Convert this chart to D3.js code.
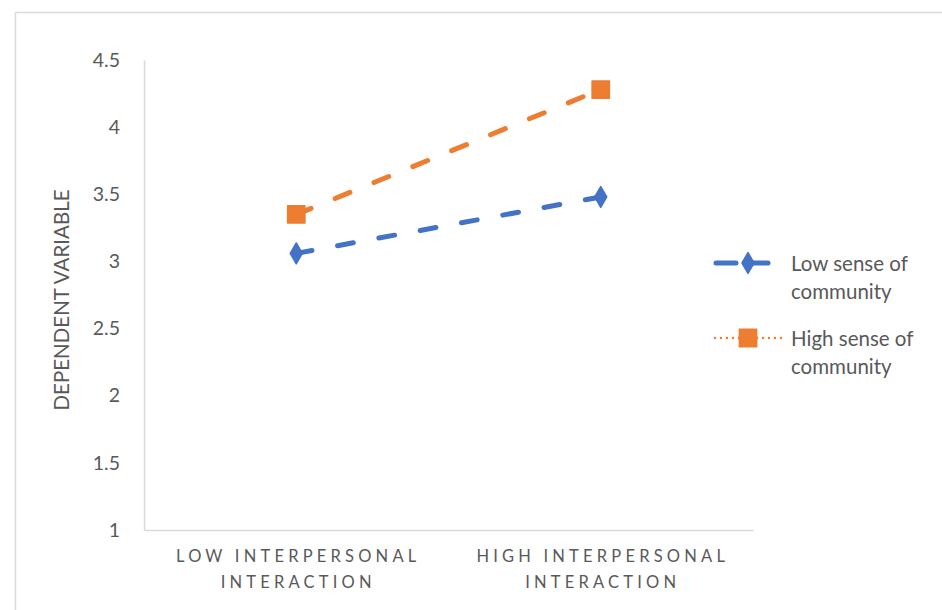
<!DOCTYPE html>
<html>
<head>
<meta charset="utf-8">
<script src="https://cdn.jsdelivr.net/npm/d3@7"></script>
<style>
  html, body { margin: 0; padding: 0; background: #fff; }
  svg { display: block; font-family: Lato, "Open Sans", sans-serif; }
</style>
</head>
<body>
<svg id="chart" width="942" height="610"></svg>
<script>
// Interaction plot: dependent variable by interpersonal interaction level
const categories = ["LOW INTERPERSONAL INTERACTION", "HIGH INTERPERSONAL INTERACTION"];
const categoryLines = [["LOW INTERPERSONAL", "INTERACTION"], ["HIGH INTERPERSONAL", "INTERACTION"]];
const lowCommunity = [3.06, 3.48];
const highCommunity = [3.35, 4.28];
const seriesNames = ["Low sense of community", "High sense of community"];
const legendLines = [["Low sense of", "community"], ["High sense of", "community"]];
const yTicks = [1, 1.5, 2, 2.5, 3, 3.5, 4, 4.5];
const yTitle = "DEPENDENT VARIABLE";

const series = [
  { name: seriesNames[0], values: lowCommunity, color: "#4472C4", symbol: "diamond" },
  { name: seriesNames[1], values: highCommunity, color: "#ED7D31", symbol: "square" }
];

const svg = d3.select("#chart");
const textColor = "#595959";
const axisColor = "#d9d9d9";

// chart frame
svg.append("rect")
  .attr("x", 15.5).attr("y", 12.5)
  .attr("width", 960).attr("height", 620)
  .attr("fill", "none").attr("stroke", axisColor).attr("stroke-width", 1.5);

const plot = { left: 144, right: 753, top: 60, bottom: 530 };

const x = d3.scaleBand().domain(categories).range([plot.left, plot.right]);
const y = d3.scaleLinear().domain([1, 4.5]).range([plot.bottom, plot.top]);

// y axis
const yAxis = d3.axisLeft(y).tickValues(yTicks).tickSize(0).tickPadding(24)
  .tickFormat(d => String(d));
const gy = svg.append("g").attr("transform", `translate(${plot.left},0)`).call(yAxis);
gy.select(".domain").attr("stroke", axisColor).attr("stroke-width", 1.5);
gy.selectAll("text").attr("fill", textColor).attr("font-size", 19.5)
  .attr("font-family", "Lato, sans-serif");

// x axis
const xAxis = d3.axisBottom(x).tickSize(0).tickFormat("");
const gx = svg.append("g").attr("transform", `translate(0,${plot.bottom})`).call(xAxis);
gx.select(".domain").attr("stroke", axisColor).attr("stroke-width", 1.5);

categories.forEach((c, i) => {
  const t = svg.append("text")
    .attr("x", x(c) + x.bandwidth() / 2)
    .attr("y", 562)
    .attr("text-anchor", "middle")
    .attr("fill", textColor)
    .attr("font-size", 16.5)
    .attr("letter-spacing", "4.2px");
  categoryLines[i].forEach((line, j) => {
    t.append("tspan")
      .attr("x", x(c) + x.bandwidth() / 2 + 2)
      .attr("dy", j === 0 ? 0 : 26)
      .text(line);
  });
});

// y axis title
svg.append("text")
  .attr("transform", `translate(69,${300}) rotate(-90)`)
  .attr("text-anchor", "middle")
  .attr("fill", textColor)
  .attr("font-size", 20.5)
  .text(yTitle);

const cx = c => x(c) + x.bandwidth() / 2;
const line = d3.line().x((d, i) => cx(categories[i])).y(d => y(d));

const symbolFor = s => s === "diamond"
  ? d3.symbol().type(d3.symbolDiamond).size(125)
  : d3.symbol().type(d3.symbolSquare).size(300);

series.forEach(s => {
  svg.append("path")
    .datum(s.values)
    .attr("d", line)
    .attr("fill", "none")
    .attr("stroke", s.color)
    .attr("stroke-width", 5)
    .attr("stroke-linecap", "round")
    .attr("stroke-dasharray", "16 26");

  svg.selectAll(null)
    .data(s.values)
    .enter().append("path")
    .attr("d", symbolFor(s.symbol))
    .attr("transform", (d, i) => `translate(${cx(categories[i])},${y(d)})`)
    .attr("fill", s.color)
    .attr("stroke", s.color)
    .attr("stroke-width", 1.5)
    .attr("stroke-linejoin", "round");
});

// legend
const legendY = [263, 338];
series.forEach((s, i) => {
  const g = svg.append("g").attr("transform", `translate(0,${legendY[i]})`);
  if (i === 0) {
    g.append("line").attr("x1", 716).attr("x2", 778).attr("y1", 0).attr("y2", 0)
      .attr("stroke", s.color).attr("stroke-width", 5).attr("stroke-linecap", "round")
      .attr("stroke-dasharray", "20 12");
  } else {
    g.append("line").attr("x1", 715).attr("x2", 782).attr("y1", 0).attr("y2", 0)
      .attr("stroke", s.color).attr("stroke-width", 2.5).attr("stroke-linecap", "round")
      .attr("stroke-dasharray", "0 6");
  }
  g.append("path")
    .attr("d", symbolFor(s.symbol))
    .attr("transform", "translate(748,0)")
    .attr("fill", s.color).attr("stroke", s.color).attr("stroke-width", 1.5)
    .attr("stroke-linejoin", "round");
  const t = g.append("text").attr("x", 791).attr("y", 8)
    .attr("fill", textColor).attr("font-size", 20.5);
  legendLines[i].forEach((ln, j) => {
    t.append("tspan").attr("x", 791).attr("dy", j === 0 ? 0 : 28).text(ln);
  });
});
</script>
</body>
</html>
